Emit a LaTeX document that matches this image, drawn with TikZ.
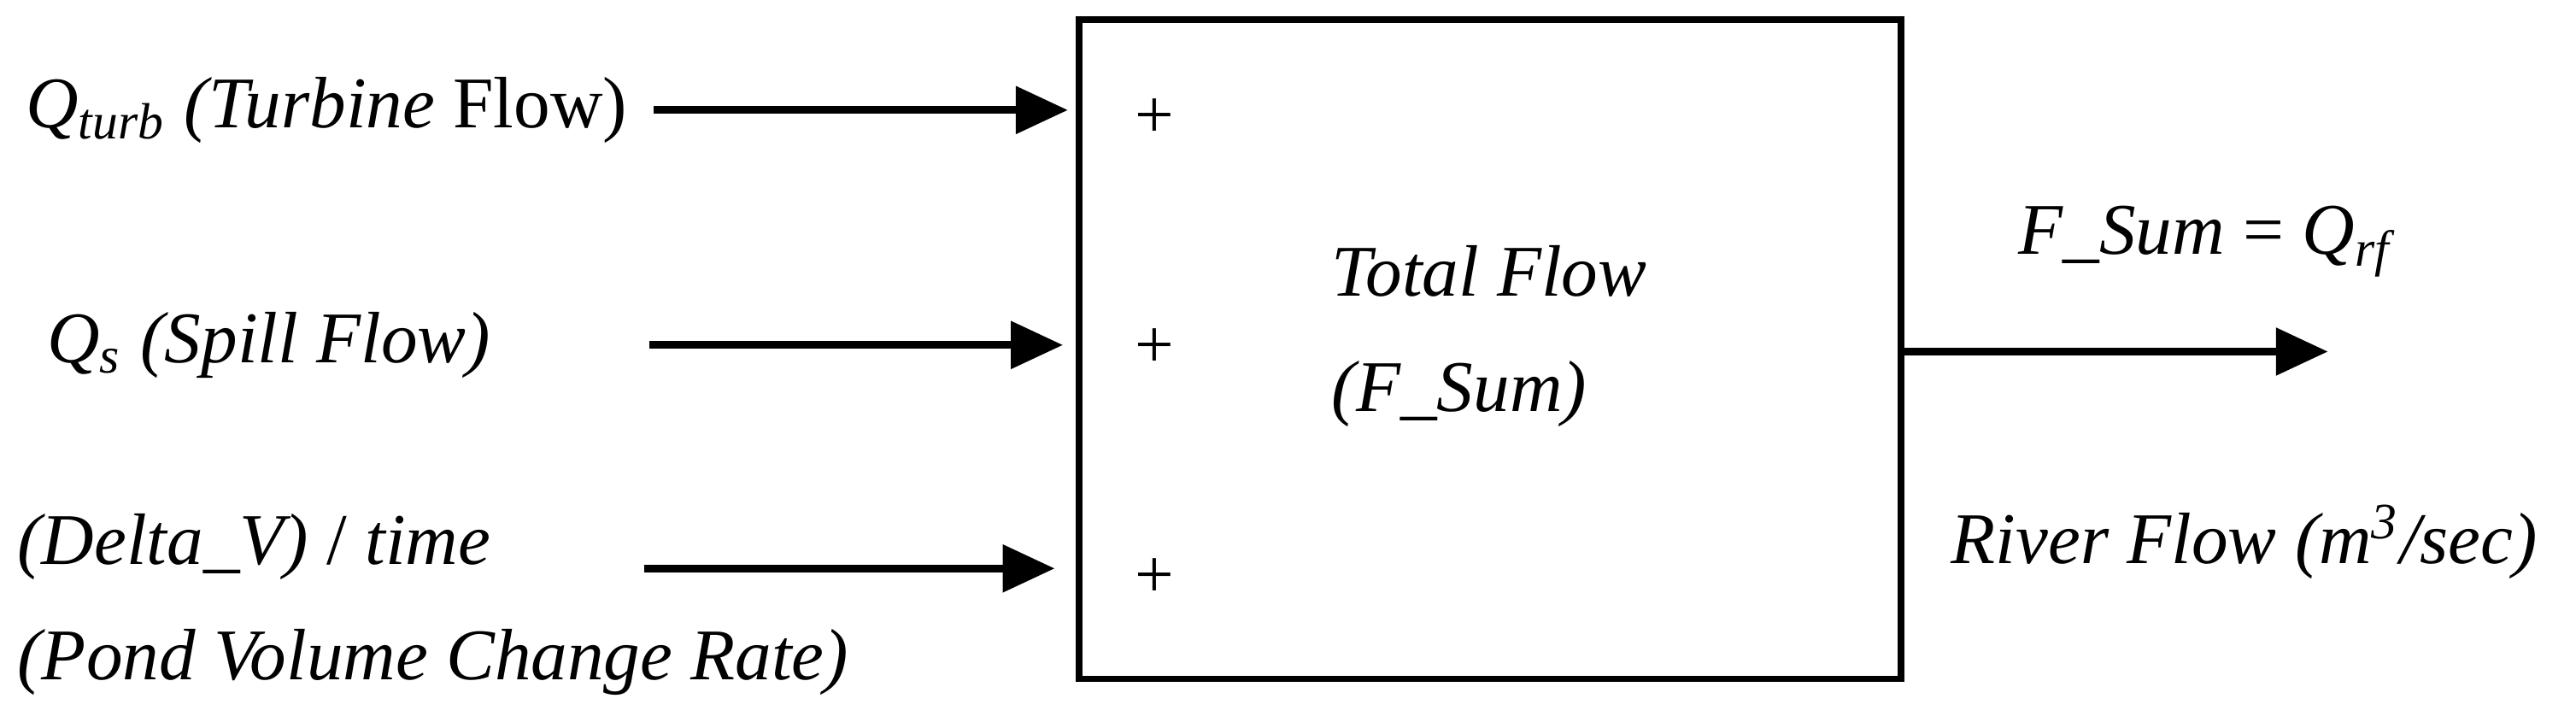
\documentclass[tikz,border=0pt]{standalone}
\usepackage{fontspec}
\setmainfont{Liberation Serif}
\usetikzlibrary{arrows.meta}
\begin{document}
\begin{tikzpicture}[x=0.01cm,y=-0.01cm,
  lbl/.style={font=\fontsize{12.6}{15}\selectfont\itshape, inner sep=0pt},
  flow/.style={line width=1.3pt,-{Triangle[length=9pt,width=8pt]}},
  pl/.style={font=\fontsize{12}{14}\selectfont, inner sep=0pt}]
\useasboundingbox (0,0) rectangle (1568,443);
\node[draw,line width=1.1pt,minimum width=5cm,minimum height=4.01cm,inner sep=0pt] (box) at (907,212.5) {};
\coordinate (i1s) at (398,67); \coordinate (i1e) at (650,67);
\coordinate (i2s) at (395,210); \coordinate (i2e) at (647,210);
\coordinate (i3s) at (392,346); \coordinate (i3e) at (642,346);
\coordinate (oe) at (1417,214);
\draw[flow] (i1s) -- (i1e);
\draw[flow] (i2s) -- (i2e);
\draw[flow] (i3s) -- (i3e);
\draw[flow] (box.east |- oe) -- (oe);
\node[pl] (p1) at (703,72) {+};
\node[pl] (p2) at (703,212) {+};
\node[pl] (p3) at (703,352) {+};
\node[lbl,anchor=west] (t1) at (15,67) {Q\textsubscript{turb} (Turbine \upshape Flow)};
\node[lbl,anchor=west] (t2) at (28,210) {Q\textsubscript{s} (Spill Flow)};
\node[lbl,anchor=west] (t3) at (10,333) {(Delta\_V) \upshape/ \itshape time};
\node[lbl,anchor=west] (t4) at (10,403) {(Pond Volume Change Rate)};
\node[lbl,anchor=west] (t5) at (810,165) {Total Flow};
\node[lbl,anchor=west] (t6) at (810,240) {(F\_Sum)};
\node[lbl,anchor=west] (t7) at (1228,147) {F\_Sum \upshape= \itshape Q\textsubscript{rf}};
\node[lbl,anchor=west] (t8) at (1187,330) {River Flow (m\textsuperscript{3}/sec)};
\end{tikzpicture}
\end{document}
